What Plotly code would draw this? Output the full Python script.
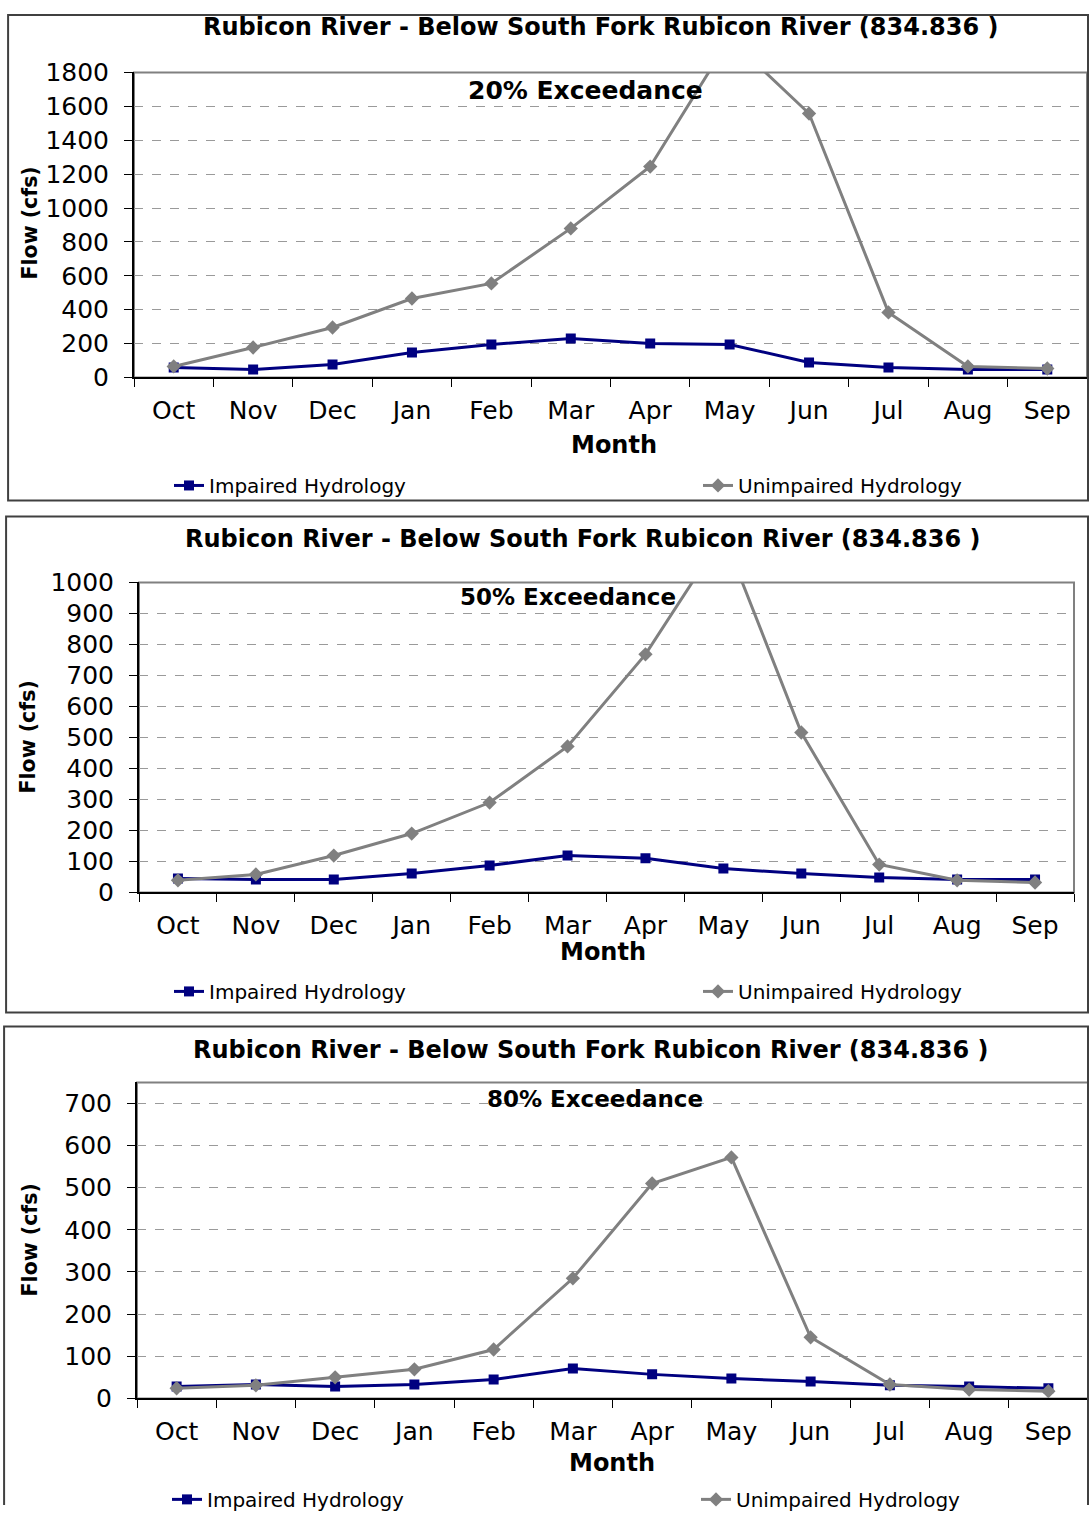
import plotly.graph_objects as go

W, H = 1090, 1520
FONT = "DejaVu Sans, Liberation Sans, Arial, sans-serif"
# the page snapshot ends up slightly squeezed vertically with a band above it;
# these undo that so positions land where the reference has them
VSCALE, VSHIFT = 0.981, 13.5

months = ["Oct", "Nov", "Dec", "Jan", "Feb", "Mar", "Apr", "May", "Jun", "Jul", "Aug", "Sep"]

# 20% exceedance
impaired_20 = [59, 47, 77, 148, 195, 230, 200, 195, 89, 59, 47, 47]
unimpaired_20 = [65, 177, 295, 466, 555, 880, 1245, 2000, 1558, 384, 65, 53]
# 50% exceedance
impaired_50 = [45, 42, 42, 61, 87, 119, 110, 77, 61, 48, 42, 42]
unimpaired_50 = [39, 58, 119, 190, 290, 471, 768, 1155, 516, 90, 39, 32]
# 80% exceedance
impaired_80 = [28, 33, 28, 33, 45, 71, 57, 47, 40, 31, 28, 24]
unimpaired_80 = [24, 31, 50, 69, 116, 285, 510, 572, 145, 33, 21, 17]

title_text = "Rubicon River - Below South Fork Rubicon River (834.836 )"

# pixel layout of each panel
panels = [
    dict(imp=impaired_20, unimp=unimpaired_20, label="20% Exceedance", note_size=25, ymax=1800, dtick=200,
         px=(134, 1087), py=(72, 377), box=(7, 5, 1088, 500), title=(600, 27),
         note=(585, 90), month=(614, 445), flow=(30, 223), leg=(209, 738, 485)),
    dict(imp=impaired_50, unimp=unimpaired_50, label="50% Exceedance", note_size=23, ymax=1000, dtick=100,
         px=(139, 1074), py=(582, 892), box=(5, 516, 1088, 1012), title=(582, 539),
         note=(568, 597), month=(603, 952), flow=(28, 737), leg=(209, 738, 991)),
    dict(imp=impaired_80, unimp=unimpaired_80, label="80% Exceedance", note_size=23, ymax=750, dtick=100,
         px=(137, 1088), py=(1082, 1398), box=(3, 1026, 1088, None), title=(591, 1050),
         note=(595, 1099), month=(612, 1463), flow=(30, 1240), leg=(207, 736, 1499)),
]


def fx(p):
    return min(max(p / W, 0.0), 1.0)


def fy(p):
    return min(max(1 - (p - VSHIFT) / VSCALE / H, 0.0), 1.0)


fig = go.Figure()
annotations = []
shapes = []

for i, p in enumerate(panels):
    n = "" if i == 0 else str(i + 1)
    leg_a = "legend" + str(2 * i + 2)
    leg_b = "legend" + str(2 * i + 3)
    fig.add_trace(go.Scatter(x=months, y=p["imp"], name="Impaired Hydrology", mode="lines+markers",
                             line=dict(color="#000080", width=3),
                             marker=dict(symbol="square", size=10, color="#000080"),
                             xaxis="x" + n, yaxis="y" + n, legend=leg_a))
    fig.add_trace(go.Scatter(x=months, y=p["unimp"], name="Unimpaired Hydrology", mode="lines+markers",
                             line=dict(color="#808080", width=3),
                             marker=dict(symbol="diamond", size=11, color="#808080"),
                             xaxis="x" + n, yaxis="y" + n, legend=leg_b))

    legfont = dict(family=FONT, size=20, color="black")
    fig.update_layout(**{
        "xaxis" + n: dict(domain=[fx(p["px"][0]), fx(p["px"][1])], anchor="y" + n,
                          type="category", range=[-0.5, 11.5], tickson="boundaries",
                          ticks="outside", ticklen=8, tickcolor="black",
                          showline=True, linecolor="black", linewidth=2,
                          showgrid=False, ticklabelstandoff=10,
                          tickfont=dict(family=FONT, size=25, color="black")),
        "yaxis" + n: dict(domain=[fy(p["py"][1]), fy(p["py"][0])], anchor="x" + n,
                          range=[0, p["ymax"]], dtick=p["dtick"], ticks="outside", ticklen=8,
                          tickcolor="black", showline=True, linecolor="black", linewidth=2,
                          showgrid=True, gridcolor="#9a9a9a", griddash="dash", gridwidth=1,
                          zeroline=False, ticklabelstandoff=10,
                          tickfont=dict(family=FONT, size=25, color="black")),
        leg_a: dict(orientation="h", x=fx(p["leg"][0] - 40), y=fy(p["leg"][2]), xanchor="left",
                    yanchor="middle", bgcolor="rgba(0,0,0,0)", borderwidth=0, font=legfont),
        leg_b: dict(orientation="h", x=fx(p["leg"][1] - 40), y=fy(p["leg"][2]), xanchor="left",
                    yanchor="middle", bgcolor="rgba(0,0,0,0)", borderwidth=0, font=legfont),
    })

    # plot area frame
    shapes.append(dict(type="rect", xref="x" + n + " domain", yref="y" + n + " domain",
                       x0=0, x1=1, y0=0, y1=1, line=dict(color="#808080", width=2), layer="below"))
    # chart box (the last one runs off the bottom of the page)
    b = p["box"]
    x0, x1 = fx(b[0]) + 0.001, fx(b[2])
    top = min(fy(b[1]), 0.9993)
    if b[3] is None:
        path = f"M{x0},0 L{x0},{top} L{x1},{top} L{x1},0"
    else:
        bot = fy(b[3])
        path = f"M{x0},{bot} L{x0},{top} L{x1},{top} L{x1},{bot} Z"
    shapes.append(dict(type="path", xref="paper", yref="paper", path=path,
                       line=dict(color="#404040", width=2)))

    annotations += [
        dict(text="<b>" + title_text + "</b>", x=fx(p["title"][0]), y=fy(p["title"][1]),
             font=dict(family=FONT, size=24, color="black")),
        dict(text="<b>" + p["label"] + "</b>", x=fx(p["note"][0]), y=fy(p["note"][1]),
             font=dict(family=FONT, size=p["note_size"], color="black")),
        dict(text="<b>Month</b>", x=fx(p["month"][0]), y=fy(p["month"][1]),
             font=dict(family=FONT, size=24, color="black")),
        dict(text="<b>Flow (cfs)</b>", x=fx(p["flow"][0]), y=fy(p["flow"][1]), textangle=-90,
             font=dict(family=FONT, size=20.5, color="black")),
    ]

for a in annotations:
    a.update(xref="paper", yref="paper", showarrow=False, xanchor="center", yanchor="middle")

fig.update_layout(width=W, height=H, margin=dict(l=0, r=0, t=0, b=0),
                  paper_bgcolor="white", plot_bgcolor="white",
                  annotations=annotations, shapes=shapes)

# drop the default page margin so the figure sits at the window origin
fig.write_html("out.html", config={"displayModeBar": False},
               post_script="document.body.style.margin='0';"
                           "document.documentElement.style.overflow='hidden';")
